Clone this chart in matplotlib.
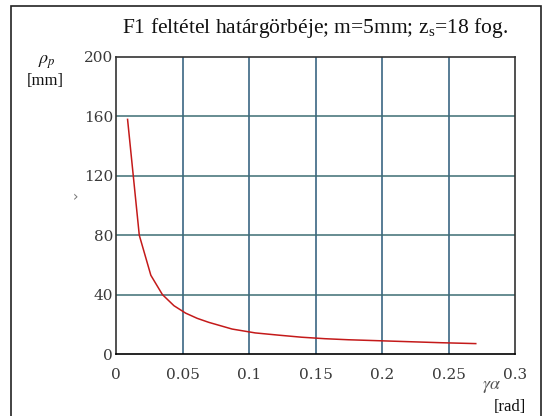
import matplotlib
matplotlib.use("Agg")
import matplotlib.pyplot as plt
from matplotlib.patches import Rectangle

# data
gamma = [0.0087, 0.0175, 0.0262, 0.0349, 0.0436, 0.0524, 0.0611, 0.0698,
         0.0873, 0.1047, 0.1222, 0.1396, 0.1571, 0.1745, 0.1920, 0.2094,
         0.2269, 0.2443, 0.2618, 0.2705]
rho = [158.0, 80.0, 53.0, 40.0, 32.5, 27.5, 24.0, 21.3,
       16.8, 14.2, 12.7, 11.3, 10.3, 9.6, 9.1, 8.6,
       8.1, 7.6, 7.2, 7.0]
xticks = [0, 0.05, 0.1, 0.15, 0.2, 0.25, 0.3]
xticklabels = ["0", "0.05", "0.1", "0.15", "0.2", "0.25", "0.3"]
yticks = [0, 40, 80, 120, 160, 200]
yticklabels = ["0", "40", "80", "120", "160", "200"]
title = "F1 feltétel határgörbéje; m=5mm; z$_\\mathregular{s}$=18 fog."

W, H = 548, 416
fig = plt.figure(figsize=(W / 100, H / 100), dpi=100)
ax = fig.add_axes([116 / W, (H - 354) / H, (515 - 116) / W, (354 - 57) / H])

ax.set_xlim(0, 0.3)
ax.set_ylim(0, 200)
ax.set_xticks(xticks)
ax.set_xticklabels(xticklabels)
ax.set_yticks(yticks)
ax.set_yticklabels(yticklabels)
ax.tick_params(length=0, labelsize=11, labelcolor="#3a3a3a")
ax.tick_params(axis="x", pad=10)
ax.tick_params(axis="y", pad=2)
for lab in ax.get_xticklabels() + ax.get_yticklabels():
    lab.set_family("DejaVu Serif")

for xv in xticks[1:-1]:
    ax.axvline(xv, color="#2a5878", lw=1.1, zorder=1)
for yv in yticks[1:-1]:
    ax.axhline(yv, color="#3d6e74", lw=1.1, zorder=1)

for s in ax.spines.values():
    s.set_color("#333333")
    s.set_linewidth(1.2)
ax.spines["bottom"].set_color("#000000")

ax.plot(gamma, rho, color="#c41a1a", lw=1.1, zorder=3)

tf = dict(family="Liberation Serif", color="#111111")
fig.text(315 / W, 1 - 28 / H, title, ha="center", va="center", fontsize=15.5, **tf)
fig.text(47 / W, 1 - 62 / H, r"$\rho_p$", ha="center", va="center", fontsize=13,
         math_fontfamily="stix", color="#111111")
fig.text(45 / W, 1 - 81 / H, "[mm]", ha="center", va="center", fontsize=12, **tf)
fig.text(492 / W, 1 - 386 / H, r"$\gamma\alpha$", ha="center", va="center", fontsize=13,
         math_fontfamily="stix", color="#555555")
fig.text(510 / W, 1 - 407 / H, "[rad]", ha="center", va="center", fontsize=12, **tf)
fig.text(75 / W, 1 - 197 / H, "›", ha="center", va="center", fontsize=10,
         color="#777777", family="DejaVu Sans")

fig.add_artist(Rectangle((10.5 / W, -0.02), (541 - 10.5) / W, 1.02 - 6 / H,
                         transform=fig.transFigure, fill=False,
                         edgecolor="#222222", lw=1.2))

fig.savefig("out.png", dpi=100)
